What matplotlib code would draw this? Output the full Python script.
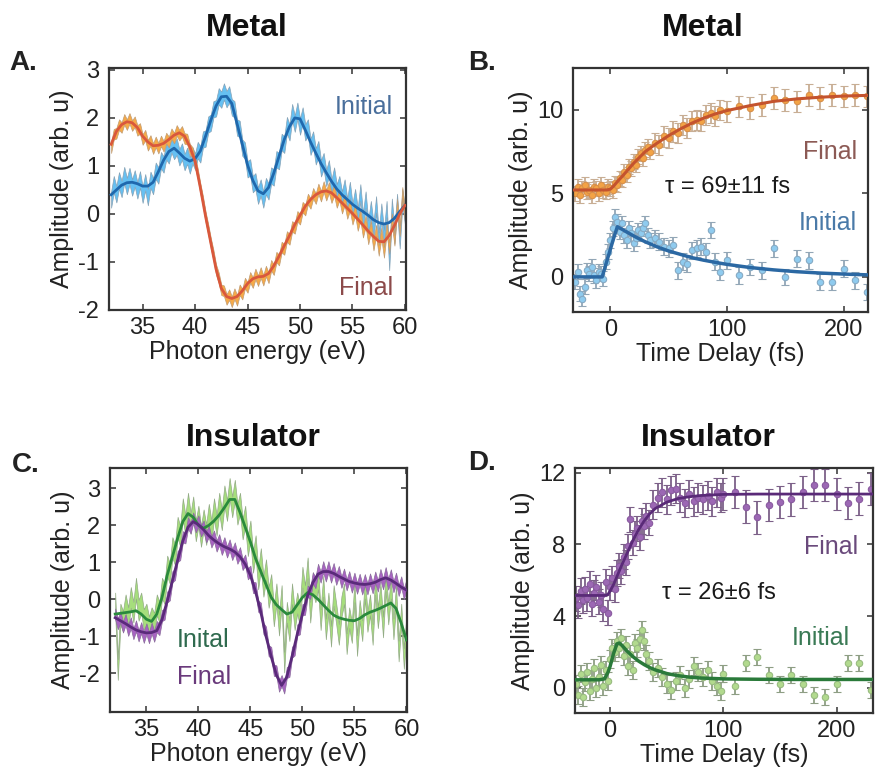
import matplotlib
matplotlib.use('Agg')
import matplotlib.pyplot as plt
import numpy as np

plt.rcParams['font.family'] = ['Liberation Sans', 'DejaVu Sans']
plt.rcParams['axes.unicode_minus'] = False

# ---------------- spectra (panels A and C) ----------------
# raw traces sampled every 0.25 eV, fits every 0.5 eV, 32..60 eV
E_RAW = np.arange(32.0, 60.001, 0.25)
E_FIT = np.arange(32.0, 60.001, 0.5)

A_INIT_RAW = [
    0.30, 0.62, 0.41, 0.70, 0.52, 0.81, 0.58, 0.79,
    0.55, 0.74, 0.49, 0.72, 0.40, 0.66, 0.35, 0.71,
    0.58, 0.90, 0.80, 1.12, 1.03, 1.30, 1.22, 1.45,
    1.31, 1.40, 1.18, 1.30, 1.08, 1.21, 1.01, 1.22,
    1.09, 1.33, 1.24, 1.55, 1.57, 1.86, 1.90, 2.18,
    2.20, 2.45, 2.38, 2.55, 2.39, 2.49, 2.22, 2.18,
    1.80, 1.77, 1.38, 1.32, 0.93, 0.97, 0.62, 0.68,
    0.38, 0.55, 0.30, 0.58, 0.47, 0.80, 0.76, 1.14,
    1.10, 1.50, 1.44, 1.85, 1.70, 2.12, 1.88, 2.15,
    1.82, 2.05, 1.70, 1.80, 1.40, 1.55, 1.20, 1.35,
    0.95, 1.10, 0.75, 0.95, 0.55, 0.80, 0.45, 0.62,
    0.30, 0.55, 0.15, 0.50, 0.05, 0.35, -0.05, 0.45,
    -0.15, 0.30, -0.30, 0.10, -0.35, 0.20, -0.55, 0.05,
    -0.50, 0.10, -1.00, 0.15, -0.45, 0.25, -0.55, 0.35,
    -0.05]
A_INIT_FIT = [
    0.40, 0.50, 0.60, 0.65, 0.66, 0.63, 0.58, 0.58,
    0.66, 0.88, 1.12, 1.30, 1.37, 1.27, 1.16, 1.10,
    1.15, 1.31, 1.62, 1.95, 2.25, 2.44, 2.45, 2.30,
    1.88, 1.45, 1.02, 0.70, 0.48, 0.42, 0.55, 0.85,
    1.20, 1.55, 1.82, 2.00, 1.98, 1.75, 1.50, 1.27,
    1.05, 0.86, 0.68, 0.52, 0.40, 0.30, 0.20, 0.12,
    0.05, -0.03, -0.12, -0.18, -0.21, -0.18, -0.09, 0.05,
    0.18]
A_FINAL_RAW = [
    1.38, 1.66, 1.68, 1.86, 1.80, 1.97, 1.86, 1.99,
    1.84, 1.92, 1.74, 1.78, 1.55, 1.64, 1.43, 1.53,
    1.36, 1.50, 1.37, 1.52, 1.41, 1.58, 1.50, 1.67,
    1.58, 1.74, 1.64, 1.72, 1.57, 1.56, 1.35, 1.28,
    1.07, 0.84, 0.53, 0.26, -0.06, -0.32, -0.61, -0.86,
    -1.16, -1.33, -1.58, -1.60, -1.78, -1.68, -1.83, -1.66,
    -1.80, -1.58, -1.67, -1.44, -1.53, -1.32, -1.43, -1.25,
    -1.39, -1.22, -1.38, -1.19, -1.33, -1.07, -1.16, -0.90,
    -0.96, -0.69, -0.74, -0.47, -0.53, -0.26, -0.30, -0.05,
    -0.11, 0.14, 0.08, 0.31, 0.22, 0.43, 0.32, 0.52,
    0.37, 0.57, 0.39, 0.55, 0.34, 0.49, 0.24, 0.39,
    0.12, 0.29, 0.01, 0.18, -0.11, 0.08, -0.24, -0.03,
    -0.38, -0.15, -0.52, -0.26, -0.65, -0.34, -0.76, -0.40,
    -0.80, -0.30, -0.70, -0.10, -0.55, 0.20, -0.35, 0.45,
    -0.05]
A_FINAL_FIT = [
    1.45, 1.72, 1.86, 1.92, 1.90, 1.80, 1.62, 1.50,
    1.42, 1.43, 1.47, 1.55, 1.64, 1.69, 1.62, 1.40,
    1.10, 0.55, -0.05, -0.60, -1.15, -1.55, -1.72, -1.76,
    -1.72, -1.60, -1.45, -1.35, -1.31, -1.30, -1.24, -1.08,
    -0.88, -0.66, -0.45, -0.22, -0.03, 0.16, 0.30, 0.40,
    0.46, 0.48, 0.44, 0.34, 0.23, 0.12, 0.01, -0.11,
    -0.23, -0.36, -0.47, -0.57, -0.58, -0.45, -0.24, 0.00,
    0.18]

C_INIT_RAW = [
    -0.10, -1.90, -0.40, -0.60, -0.15, -0.50, 0.05, -0.35,
    0.30, -0.30, -0.10, -0.55, -0.40, -0.75, -0.50, -0.65,
    -0.15, -0.35, 0.30, 0.15, 0.90, 0.70, 1.40, 1.20,
    1.95, 1.70, 2.45, 2.00, 2.60, 2.05, 2.50, 1.85,
    2.25, 1.70, 2.15, 1.75, 2.30, 1.85, 2.45, 2.00,
    2.60, 2.15, 2.80, 2.40, 3.00, 2.50, 2.95, 2.30,
    2.60, 1.90, 2.25, 1.45, 1.85, 1.00, 1.45, 0.55,
    1.10, 0.35, 0.80, 0.05, 0.40, -0.45, 0.15, -0.70,
    0.10, -1.70, -0.35, -0.85, 0.15, -0.55, -0.10, -0.45,
    0.60, 0.10, 0.85, -0.35, 0.45, 0.20, 0.55, -0.55,
    0.35, -0.80, -0.10, -1.00, 0.10, -0.40, -0.95, -0.20,
    0.15, -1.20, -0.50, -0.90, 0.20, -1.25, -0.30, -0.85,
    0.30, -0.60, -0.15, -0.95, 0.40, -0.50, 0.15, -0.75,
    0.50, -0.40, 0.30, -0.80, 0.10, -1.40, -0.40, -1.60,
    -0.70]
C_INIT_FIT = [
    -0.40, -0.38, -0.36, -0.34, -0.31, -0.40, -0.54, -0.60,
    -0.40, 0.05, 0.65, 1.15, 1.65, 2.10, 2.32, 2.22,
    2.00, 1.92, 2.00, 2.12, 2.28, 2.48, 2.70, 2.70,
    2.35, 1.95, 1.55, 1.10, 0.75, 0.40, 0.05, -0.15,
    -0.28, -0.40, -0.35, -0.15, 0.05, 0.18, 0.12, 0.00,
    -0.15, -0.30, -0.43, -0.50, -0.54, -0.57, -0.58, -0.52,
    -0.42, -0.35, -0.30, -0.24, -0.17, -0.10, -0.25, -0.65,
    -1.10]
C_FINAL_RAW = [
    -0.40, -0.66, -0.48, -0.75, -0.55, -0.84, -0.64, -0.93,
    -0.72, -0.99, -0.77, -1.03, -0.80, -1.04, -0.78, -1.00,
    -0.74, -0.82, -0.44, -0.40, 0.06, 0.12, 0.61, 0.67,
    1.16, 1.21, 1.69, 1.66, 2.06, 1.93, 2.20, 1.96,
    2.12, 1.85, 1.98, 1.69, 1.83, 1.55, 1.71, 1.44,
    1.61, 1.35, 1.53, 1.28, 1.47, 1.21, 1.39, 1.11,
    1.26, 0.94, 1.06, 0.69, 0.76, 0.32, 0.31, -0.19,
    -0.24, -0.79, -0.89, -1.39, -1.44, -1.92, -1.94, -2.35,
    -2.20, -2.40, -1.98, -1.95, -1.43, -1.37, -0.83, -0.80,
    -0.28, -0.27, 0.22, 0.16, 0.58, 0.45, 0.81, 0.60,
    0.88, 0.63, 0.88, 0.60, 0.83, 0.54, 0.75, 0.46,
    0.68, 0.39, 0.61, 0.33, 0.57, 0.30, 0.54, 0.28,
    0.53, 0.28, 0.55, 0.31, 0.60, 0.36, 0.67, 0.42,
    0.72, 0.41, 0.66, 0.34, 0.57, 0.24, 0.47, 0.15,
    0.39]
C_FINAL_FIT = [
    -0.50, -0.58, -0.66, -0.75, -0.83, -0.88, -0.91, -0.90,
    -0.85, -0.55, -0.05, 0.50, 1.05, 1.58, 1.95, 2.10,
    2.02, 1.88, 1.72, 1.60, 1.50, 1.42, 1.36, 1.28,
    1.15, 0.95, 0.65, 0.20, -0.35, -1.00, -1.55, -2.05,
    -2.33, -2.10, -1.55, -0.95, -0.40, 0.10, 0.45, 0.68,
    0.75, 0.75, 0.70, 0.62, 0.55, 0.48, 0.44, 0.41,
    0.40, 0.42, 0.46, 0.53, 0.58, 0.52, 0.43, 0.33,
    0.25]

# half-width of the shaded raw bands
A_INIT_ERR, A_FINAL_ERR = 0.17, 0.11
C_INIT_ERR, C_FINAL_ERR = 0.28, 0.15

# ---------------- time traces (panels B and D) ----------------
B_T = [-30, -28, -26, -24, -22, -20, -18, -16, -14, -12, -10, -8, -6, -4, -2,
       0, 2, 4, 6, 8, 10, 12, 14, 16, 18, 20, 22, 24, 26, 28, 30, 32, 34,
       38, 42, 46, 50, 54, 58, 62, 66, 70, 74, 78, 82, 86, 90, 94,
       100, 110, 120, 130, 140, 150, 160, 170, 180, 190, 200, 210, 220]
B_FINAL = [5.0, 5.4, 4.9, 5.3, 5.5, 5.1, 5.2, 4.9, 5.4, 5.3, 5.0, 5.5, 5.2, 5.1, 5.4,
           5.3, 5.2, 5.6, 5.5, 5.9, 5.8, 6.3, 6.1, 6.6, 6.5, 6.9, 6.7, 7.2, 7.4, 7.1,
           7.6, 7.8, 7.5,
           8.0, 7.9, 8.4, 8.3, 8.7, 8.6, 9.1, 8.9, 9.3, 9.4, 9.3, 9.7, 9.8, 9.6, 10.0,
           9.9, 10.2, 10.1, 10.3, 10.7, 10.6, 10.5, 10.9, 10.7, 10.9, 10.8, 10.9, 10.8]
B_INIT = [-0.3, 0.3, -1.0, -1.3, -0.6, 0.4, 0.2, 0.6, 0.1, -0.2, 0.3, 0.2, -0.1, 0.9, 1.5,
          2.2, 2.9, 3.6, 3.3, 2.7, 3.2, 2.5, 2.2, 2.9, 2.6, 2.0, 2.3, 2.8, 2.6, 2.9,
          3.2, 2.5, 2.2,
          2.3, 2.1, 1.8, 1.7, 1.9, 0.4, 0.9, 0.8, 1.6, 1.7, 1.8, 1.5, 2.8, 0.9, 0.3,
          1.0, 0.1, 0.6, 0.4, 1.7, 0.0, 1.1, 1.0, -0.3, -0.3, 0.5, -0.2, -0.9]
B_FINAL_ERR = [0.45] * 33 + [0.6] * 15 + [0.65] * 13
B_INIT_ERR = [0.45] * 33 + [0.5] * 15 + [0.5] * 13

B_T_FIT = [-32, -20, -10, -7, -3, 0, 3, 6, 10, 15, 20, 25, 30, 35, 40, 50, 60,
           70, 80, 90, 100, 120, 140, 160, 180, 200, 221]
B_FINAL_FIT = [5.2, 5.2, 5.2, 5.2, 5.2, 5.25, 5.45, 5.7, 6.0, 6.4, 6.8, 7.15, 7.5,
               7.75, 8.0, 8.45, 8.85, 9.2, 9.5, 9.75, 9.95, 10.25, 10.5, 10.65,
               10.75, 10.82, 10.86]
B_INIT_FIT = [0.0, 0.0, 0.0, 0.0, 0.95, 1.65, 2.35, 3.0, 2.85, 2.65, 2.45, 2.27, 2.1,
              1.95, 1.8, 1.55, 1.35, 1.15, 1.0, 0.87, 0.75, 0.56, 0.42, 0.31, 0.23,
              0.17, 0.12]

D_T = [-30, -28, -26, -24, -22, -20, -18, -16, -14, -12, -10, -8, -6, -4, -2,
       0, 2, 4, 6, 8, 10, 12, 14, 16, 18, 20, 22, 24, 26, 28, 30, 32, 34,
       38, 42, 46, 50, 54, 58, 62, 66, 70, 74, 78, 82, 86, 90, 94, 98,
       100, 110, 120, 130, 140, 150, 160, 170, 180, 190, 200, 210, 220, 230]
D_FINAL = [5.0, 4.6, 5.4, 4.9, 5.5, 5.0, 5.8, 4.7, 5.3, 5.6, 4.8, 5.2, 4.4, 5.9, 4.2,
           5.6, 6.1, 5.5, 6.4, 6.8, 6.5, 7.3, 7.0, 7.9, 9.4, 8.1, 8.6, 8.9, 8.4, 9.3,
           9.0, 9.6, 9.2,
           10.2, 10.6, 10.9, 10.5, 11.0, 11.1, 10.6, 10.3, 10.8, 10.4, 10.6, 10.5,
           10.7, 10.4, 10.9, 10.6,
           10.8, 10.9, 10.1, 9.5, 10.2, 10.35, 10.5, 10.9, 11.3, 11.3, 10.8, 10.3,
           10.55, 11.1]
D_INIT = [0.2, -0.4, 0.8, -0.5, 0.3, 0.9, -0.2, 0.5, 1.1, 0.0, 0.6, 1.3, 0.1, 1.0, 0.4,
          1.6, 2.2, 2.0, 2.6, 2.2, 2.8, 1.8, 2.4, 1.2, 1.9, 1.0, 2.5, 2.2, 2.7, 3.2,
          2.6, 1.9, 1.5,
          0.9, 1.1, 0.6, 0.2, -0.1, 0.4, 0.7, 0.0, 0.5, 1.2, 0.9, 0.6, 1.0, 0.4, 0.1, -0.2,
          0.8, 0.1, 1.4, 1.7, 0.7, 0.2, 0.7, 0.2, -0.4, -0.5, 0.2, 1.4, 1.4, -0.1]
D_FINAL_ERR = [0.7] * 33 + [0.8] * 16 + [0.9] * 14
D_INIT_ERR = [0.5] * 33 + [0.5] * 16 + [0.45] * 14

D_T_FIT = [-31, -20, -10, -5, -2, 0, 3, 6, 8, 10, 15, 20, 25, 30, 35, 40, 50, 60,
           70, 80, 100, 130, 160, 200, 232]
D_FINAL_FIT = [5.15, 5.15, 5.15, 5.15, 5.2, 5.4, 5.75, 6.2, 6.5, 6.8, 7.5, 8.2, 8.8,
               9.3, 9.7, 10.0, 10.35, 10.55, 10.65, 10.72, 10.78, 10.8, 10.8, 10.8, 10.8]
D_INIT_FIT = [0.45, 0.45, 0.45, 0.5, 0.85, 1.2, 1.9, 2.45, 2.5, 2.4, 2.05, 1.75, 1.5,
              1.3, 1.13, 1.0, 0.8, 0.68, 0.6, 0.55, 0.5, 0.48, 0.47, 0.47, 0.47]

YLABEL = 'Amplitude (arb. u)'


def style_axes(ax, xlim, ylim, xticks, yticks, xlabel):
    ax.set_xlim(xlim)
    ax.set_ylim(ylim)
    ax.set_xticks(xticks)
    ax.set_yticks(yticks)
    ax.set_xlabel(xlabel, fontsize=18, labelpad=1, color='#222')
    ax.set_ylabel(YLABEL, fontsize=18, labelpad=3, color='#222')
    ax.tick_params(direction='in', top=True, right=True, length=4, width=1.1,
                   labelsize=17, colors='#333', labelcolor='#222')
    ax.tick_params(axis='y', pad=7)
    ax.tick_params(axis='x', pad=5)
    for sp in ax.spines.values():
        sp.set_color('#333333')
        sp.set_linewidth(1.6)


def band(ax, raw, err, face, edge):
    raw = np.asarray(raw)
    ax.fill_between(E_RAW, raw - err, raw + err, facecolor=face,
                    edgecolor=edge, linewidth=0.5, zorder=2)


def points(ax, t, y, err, face, edge, bar):
    ax.errorbar(t, y, yerr=err, fmt='o', ms=4.6, mfc=face, mec=edge, mew=0.8,
                ecolor=bar, elinewidth=1.3, capsize=2.6, capthick=1.3, zorder=2)


fig = plt.figure(figsize=(8.75, 7.74), dpi=100)
fig.patch.set_facecolor('white')

axA = fig.add_axes([0.1246, 0.5995, 0.3394, 0.3127])
axB = fig.add_axes([0.6549, 0.5969, 0.3371, 0.3153])
axC = fig.add_axes([0.1257, 0.0801, 0.3394, 0.3152])
axD = fig.add_axes([0.6571, 0.0788, 0.3406, 0.3165])

# A: metal spectra
band(axA, A_INIT_RAW, A_INIT_ERR, '#66c0f2', '#86a2b6')
band(axA, A_FINAL_RAW, A_FINAL_ERR, '#f6aa48', '#c09c74')
axA.plot(E_FIT, A_INIT_FIT, color='#1f68ad', lw=2, zorder=3)
axA.plot(E_FIT, A_FINAL_FIT, color='#d9583c', lw=2, zorder=3)
style_axes(axA, (31.8, 60.1), (-2, 3.04), [35, 40, 45, 50, 55, 60],
           [-2, -1, 0, 1, 2, 3], 'Photon energy (eV)')
axA.text(0.955, 0.84, 'Initial', transform=axA.transAxes, ha='right', va='center',
         fontsize=18, color='#4a6f9c')
axA.text(0.955, 0.09, 'Final', transform=axA.transAxes, ha='right', va='center',
         fontsize=18, color='#8c4a4a')

# B: metal time traces
points(axB, B_T, B_FINAL, B_FINAL_ERR, '#f3a345', '#d8904a', '#c8ae94')
points(axB, B_T, B_INIT, B_INIT_ERR, '#8fcbef', '#86aac4', '#92a6b6')
axB.plot(B_T_FIT, B_FINAL_FIT, color='#c4532e', lw=2.2, zorder=3)
axB.plot(B_T_FIT, B_INIT_FIT, color='#2b68a3', lw=2.5, zorder=3)
style_axes(axB, (-32, 221), (-2.1, 12.5), [0, 100, 200], [0, 5, 10],
           'Time Delay (fs)')
axB.text(0.963, 0.656, 'Final', transform=axB.transAxes, ha='right', va='center',
         fontsize=18, color='#8c5a55')
axB.text(0.525, 0.512, 'τ = 69±11 fs', transform=axB.transAxes, ha='center',
         va='center', fontsize=17, color='#1a1a1a')
axB.text(0.963, 0.365, 'Initial', transform=axB.transAxes, ha='right', va='center',
         fontsize=18, color='#4a7aa8')

# C: insulator spectra
band(axC, C_INIT_RAW, C_INIT_ERR, '#a6de7c', '#93ab86')
band(axC, C_FINAL_RAW, C_FINAL_ERR, '#a863c2', '#8a6c9c')
axC.plot(E_FIT, C_INIT_FIT, color='#2a8a3c', lw=2, zorder=3)
axC.plot(E_FIT, C_FINAL_FIT, color='#5a2a7a', lw=2, zorder=3)
style_axes(axC, (31.5, 60.05), (-3.05, 3.55), [35, 40, 45, 50, 55, 60],
           [-2, -1, 0, 1, 2, 3], 'Photon energy (eV)')
axC.text(0.226, 0.295, 'Inital', transform=axC.transAxes, ha='left', va='center',
         fontsize=18, color='#2f6a4e')
axC.text(0.226, 0.143, 'Final', transform=axC.transAxes, ha='left', va='center',
         fontsize=18, color='#6a3a7c')

# D: insulator time traces
points(axD, D_T, D_FINAL, D_FINAL_ERR, '#9c68b4', '#8a5aa0', '#7c6088')
points(axD, D_T, D_INIT, D_INIT_ERR, '#b2da8e', '#98bb80', '#8e9e84')
axD.plot(D_T_FIT, D_FINAL_FIT, color='#5a2a78', lw=2, zorder=3)
axD.plot(D_T_FIT, D_INIT_FIT, color='#2a7a3a', lw=2.5, zorder=3)
style_axes(axD, (-31, 232), (-1.4, 12.25), [0, 100, 200], [0, 4, 8, 12],
           'Time Delay (fs)')
axD.text(0.95, 0.678, 'Final', transform=axD.transAxes, ha='right', va='center',
         fontsize=18, color='#6a4a7c')
axD.text(0.292, 0.49, 'τ = 26±6 fs', transform=axD.transAxes, ha='left',
         va='center', fontsize=17, color='#1a1a1a')
axD.text(0.923, 0.306, 'Initial', transform=axD.transAxes, ha='right', va='center',
         fontsize=18, color='#3a7a55')

# titles and panel letters
for x, y, s in [(0.282, 0.964, 'Metal'), (0.803, 0.964, 'Metal'),
                (0.289, 0.434, 'Insulator'), (0.809, 0.434, 'Insulator')]:
    fig.text(x, y, s, ha='center', va='center', fontsize=23, fontweight='bold',
             color='#111')
for x, y, s in [(0.011, 0.919, 'A.'), (0.535, 0.919, 'B.'),
                (0.014, 0.399, 'C.'), (0.535, 0.402, 'D.')]:
    fig.text(x, y, s, ha='left', va='center', fontsize=20, fontweight='bold',
             color='#222')

fig.savefig('out.png', dpi=100, facecolor='white')
